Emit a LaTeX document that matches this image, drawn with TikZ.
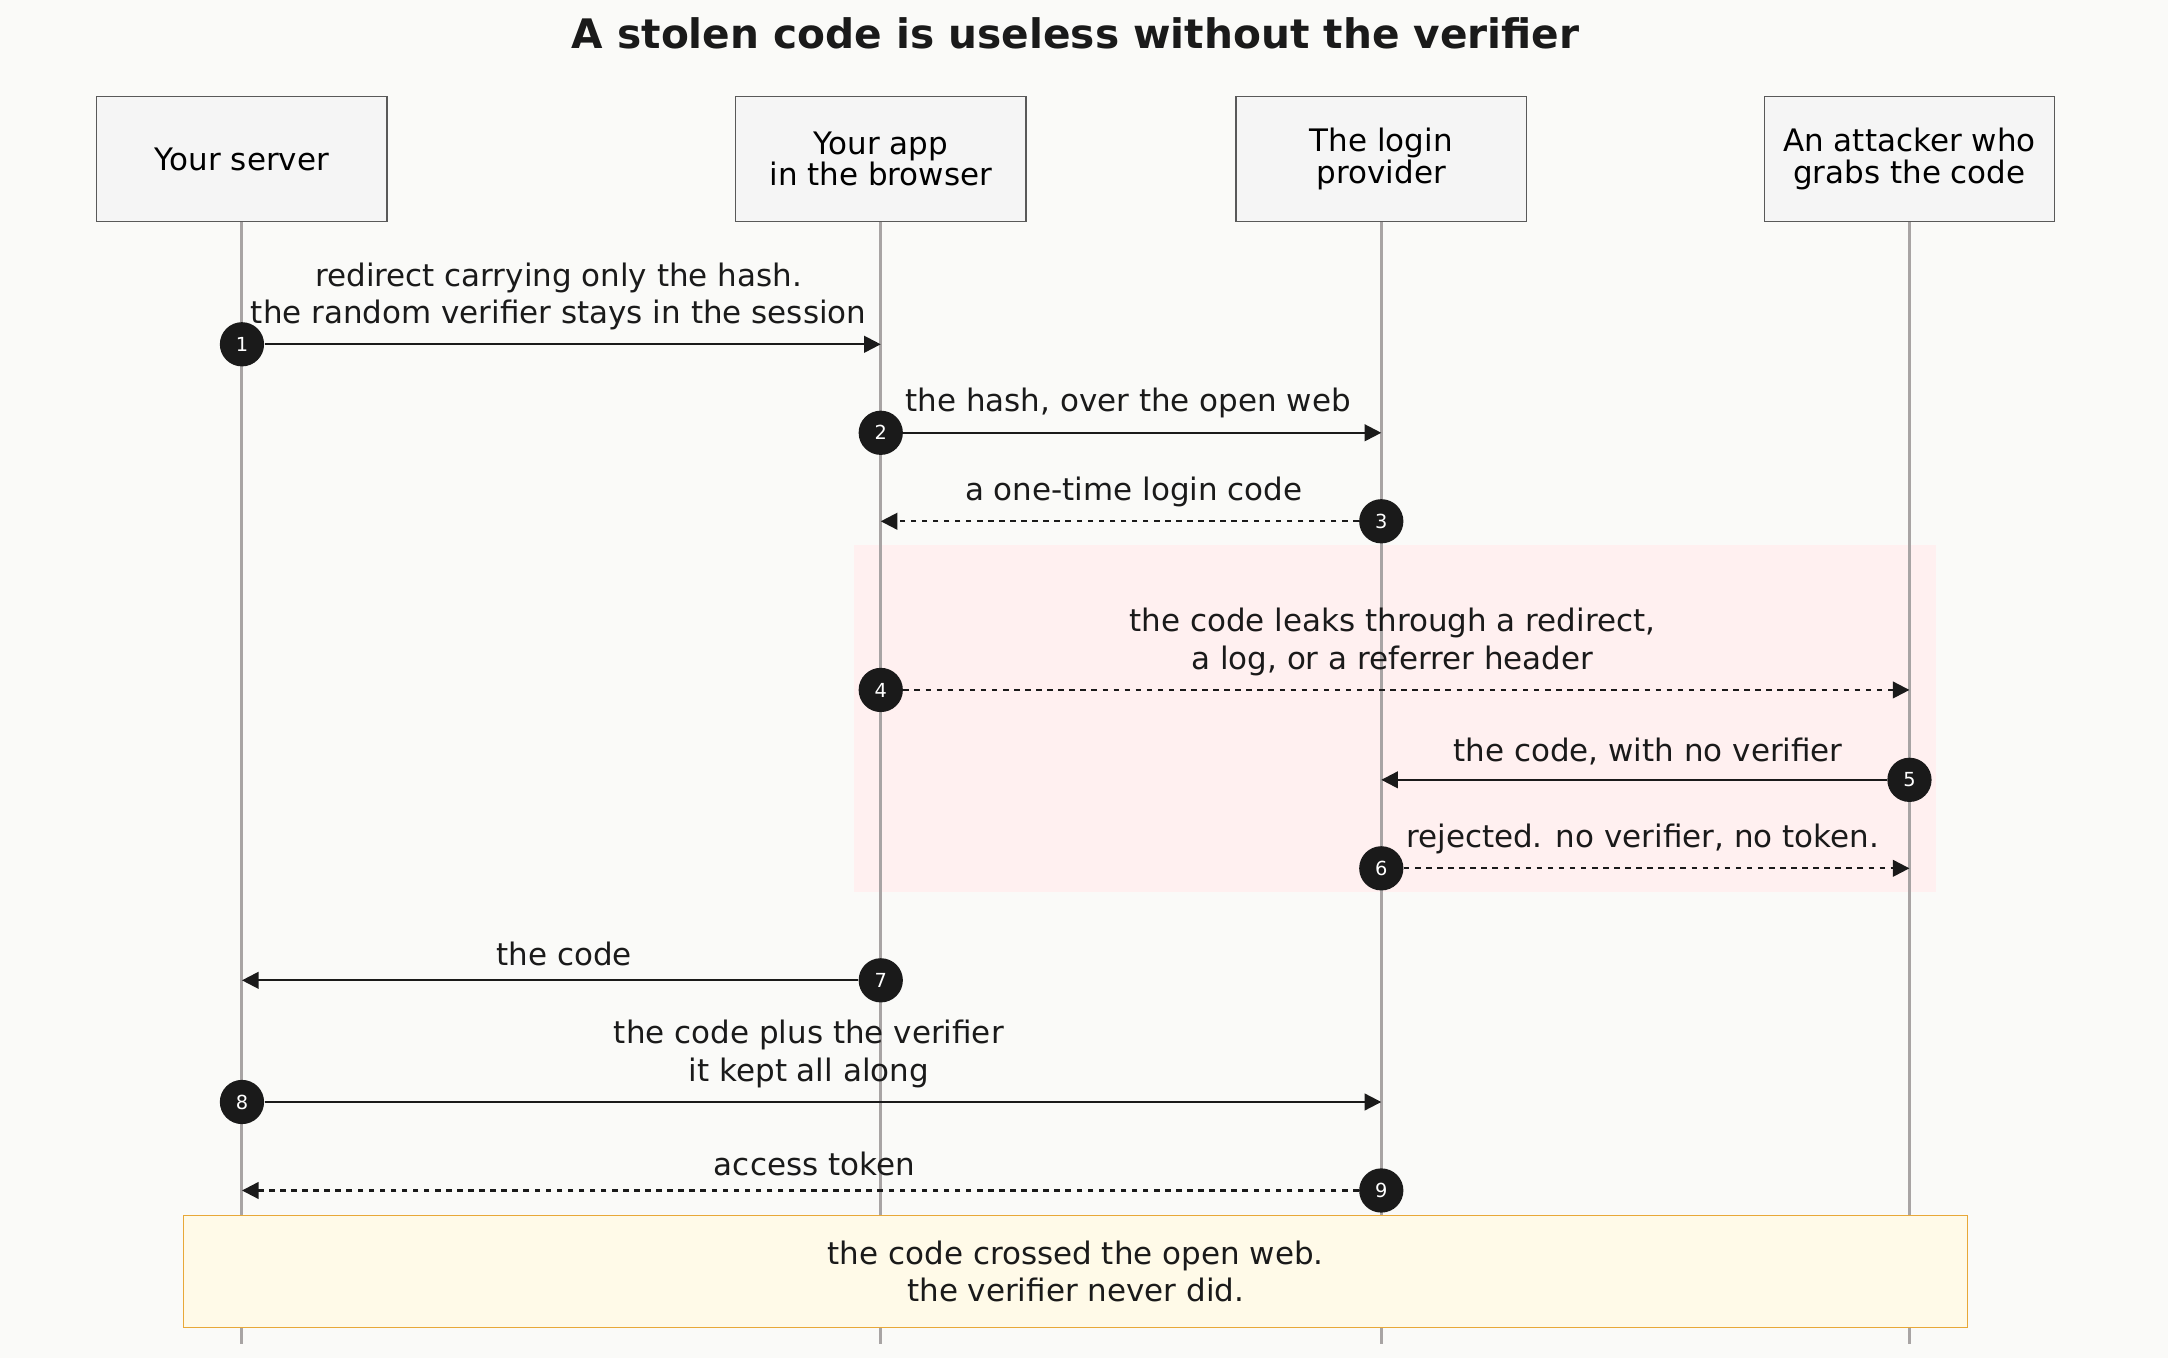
\documentclass[tikz,border=0pt]{standalone}
\usepackage{fontspec}
\setmainfont{DejaVu Sans}
\usetikzlibrary{arrows.meta}
\definecolor{bg}{HTML}{FAFAF8}
\definecolor{life}{HTML}{A8A4A4}
\definecolor{dark}{HTML}{1A1A1A}
\begin{document}
\begin{tikzpicture}[x=0.5pt,y=-0.5pt,
  actor/.style={draw=black!65,fill=black!4,minimum width=105pt,minimum height=45pt,align=center,font=\fontsize{11.2}{11.5}\selectfont,line width=0.5pt},
  life/.style={draw=life,line width=1.1pt},
  msg/.style={draw=dark,line width=0.8pt,-{Triangle[length=6pt,width=6pt]}},
  dmsg/.style={msg,dash pattern=on 2pt off 2pt},
  badge/.style={circle,fill=dark,text=white,inner sep=0pt,minimum size=16pt,font=\fontsize{7}{7}\selectfont},
  lbl/.style={align=center,font=\fontsize{11.2}{13.5}\selectfont,text=dark}]
\fill[bg] (0,0) rectangle (1568,982);
\useasboundingbox (0,0) rectangle (1568,982);
\node[font=\bfseries\fontsize{14.7}{14.7}\selectfont,text=dark] (title) at (778,24) {A stolen code is useless without the verifier};
\fill[red!6] (618,394) rectangle (1400,645);
\foreach \n/\x in {s/175,a/637,p/999,t/1381}{
  \coordinate (\n top) at (\x,160); \coordinate (\n bot) at (\x,972);
  \draw[life] (\n top) -- (\n bot);}
\node[actor] (S) at (175,115) {Your server};
\node[actor] (A) at (637,115) {Your app\\in the browser};
\node[actor] (P) at (999,115) {The login\\provider};
\node[actor] (T) at (1381,115) {An attacker who\\grabs the code};
\node[draw={rgb,255:red,232;green,168;blue,56},fill={rgb,255:red,255;green,250;blue,232},minimum width=645pt,minimum height=40.5pt,align=center,lbl] (note) at (778,919.5) {the code crossed the open web.\\the verifier never did.};
\newcommand\mymsg[7]{% num, x1, x2, y, style, labelx, label
  \node[badge] (b#1) at (#2,#4) {#1};
  \coordinate (e#1) at (#3,#4);
  \draw[#5] (b#1) -- (e#1);
  \node[lbl,anchor=south,inner sep=1pt] (l#1) at (#6,#4-8) {#7};}
\mymsg{1}{175}{637}{249}{msg}{404}{redirect carrying only the hash.\\the random verifier stays in the session}
\mymsg{2}{637}{999}{313}{msg}{816}{the hash, over the open web}
\mymsg{3}{999}{637}{377}{dmsg}{820}{a one-time login code}
\mymsg{4}{637}{1381}{499}{dmsg}{1007}{the code leaks through a redirect,\\a log, or a referrer header}
\mymsg{5}{1381}{999}{564}{msg}{1192}{the code, with no verifier}
\mymsg{6}{999}{1381}{628}{dmsg}{1188}{rejected. no verifier, no token.}
\mymsg{7}{637}{175}{709}{msg}{408}{the code}
\mymsg{8}{175}{999}{797}{msg}{585}{the code plus the verifier\\it kept all along}
\mymsg{9}{999}{175}{861}{dmsg}{589}{access token}
\end{tikzpicture}
\end{document}
